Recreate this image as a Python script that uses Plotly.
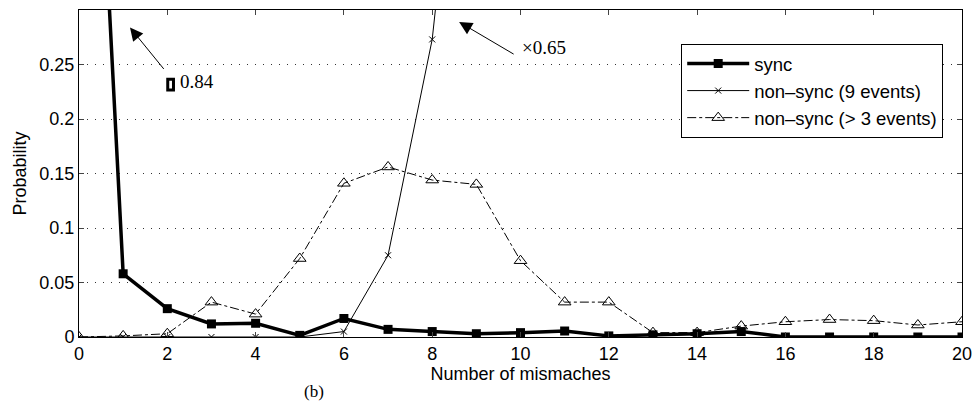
import plotly.graph_objects as go

mismatches = list(range(0, 21))
sync = [0.84, 0.058, 0.026, 0.012, 0.0126, 0.0015, 0.017, 0.007, 0.005, 0.003, 0.004,
        0.0055, 0.001, 0.002, 0.003, 0.005, 0.0, 0.0, 0.0, 0.0, 0.0]
nonsync9_x = list(range(0, 10))
nonsync9 = [0.0, 0.0, 0.0, 0.0, 0.0, 0.0, 0.005, 0.075, 0.273, 0.65]
nonsync3 = [0.0, 0.001, 0.003, 0.032, 0.021, 0.072, 0.141, 0.156, 0.144, 0.140, 0.070,
            0.032, 0.032, 0.004, 0.004, 0.010, 0.014, 0.016, 0.015, 0.011, 0.014]
y_ticks = [0, 0.05, 0.1, 0.15, 0.2, 0.25]
y_tick_labels = ["0", "0.05", "0.1", "0.15", "0.2", "0.25"]
x_ticks = list(range(0, 21, 2))

fig = go.Figure()
fig.add_trace(go.Scatter(
    x=mismatches, y=sync, name="sync", mode="lines+markers",
    line=dict(color="black", width=3.5),
    marker=dict(symbol="square", size=9, color="black"),
))
fig.add_trace(go.Scatter(
    x=nonsync9_x, y=nonsync9, name="non–sync (9 events)", mode="lines+markers",
    line=dict(color="black", width=1),
    marker=dict(symbol="x-thin", size=6, color="black", line=dict(width=1, color="black")),
))
fig.add_trace(go.Scatter(
    x=mismatches, y=nonsync3, name="non–sync (> 3 events)", mode="lines+markers",
    line=dict(color="black", width=1, dash="dashdot"),
    marker=dict(symbol="triangle-up-open", size=11, color="black", line=dict(width=1)),
))

fig.update_layout(
    width=974, height=403,
    margin=dict(l=79, r=12, t=10, b=66, autoexpand=False),
    paper_bgcolor="white", plot_bgcolor="white",
    font=dict(family="Liberation Sans, Arial, sans-serif", size=18, color="black"),
    showlegend=True,
    legend=dict(
        x=0.682, y=0.896, xanchor="left", yanchor="top",
        bgcolor="white", bordercolor="black", borderwidth=1,
        font=dict(size=18.5), itemwidth=62, tracegroupgap=0,
    ),
    xaxis=dict(
        range=[0, 20], tickvals=x_ticks, ticks="inside", ticklen=5,
        showline=True, linecolor="black", linewidth=1, mirror="ticks",
        showgrid=False, zeroline=False,
        title=dict(text="Number of mismaches", standoff=4, font=dict(size=18)),
    ),
    yaxis=dict(
        range=[0, 0.3], tickvals=y_ticks, ticktext=y_tick_labels,
        ticks="inside", ticklen=5,
        showline=True, linecolor="black", linewidth=1, mirror="ticks",
        showgrid=True, gridcolor="#333", gridwidth=1, griddash="1px,7px",
        zeroline=False,
        title=dict(text="Probability", standoff=8, font=dict(size=18)),
    ),
)

# arrows
fig.add_annotation(x=1.155, y=0.284, ax=35, ay=43, text="", showarrow=True,
                   arrowhead=2, arrowsize=2.6, arrowwidth=1, arrowcolor="black")
fig.add_annotation(x=8.61, y=0.289, ax=56, ay=33, text="", showarrow=True,
                   arrowhead=2, arrowsize=2.6, arrowwidth=1, arrowcolor="black")
# labels
fig.add_shape(type="rect", x0=2.01, x1=2.14, y0=0.2265, y1=0.2365,
              line=dict(color="black", width=3), fillcolor="white")
fig.add_annotation(x=2.24, y=0.2345, text="0.84", showarrow=False, xanchor="left",
                   font=dict(family="Liberation Serif, Times New Roman, serif", size=19))
fig.add_annotation(x=9.98, y=0.266, text="×0.65", showarrow=False, xanchor="left",
                   font=dict(family="Liberation Serif, Times New Roman, serif", size=19))
fig.add_annotation(x=0.2525, y=-0.168, xref="paper", yref="paper", text="(b)",
                   showarrow=False, yanchor="middle",
                   font=dict(family="Liberation Serif, Times New Roman, serif", size=17))

fig.write_html("out.html")
